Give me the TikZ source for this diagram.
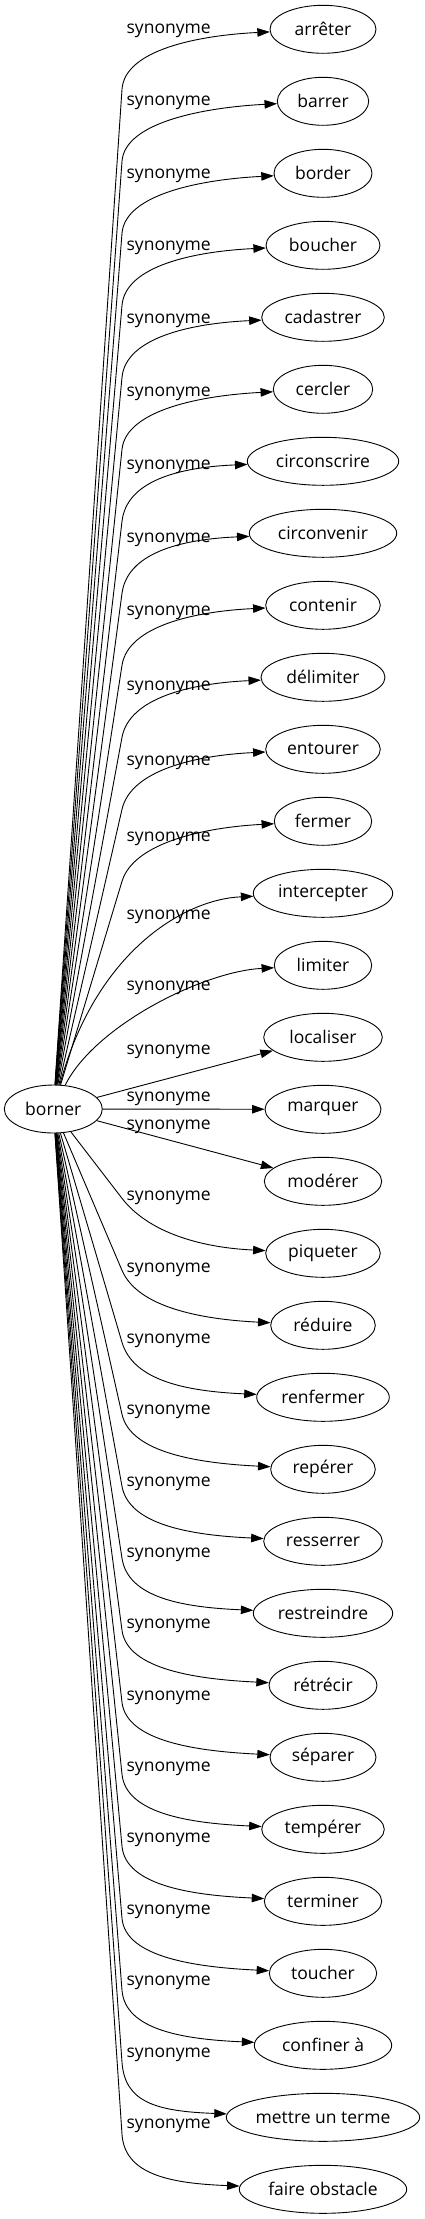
\documentclass[tikz,border=0pt]{standalone}
\usepackage{fontspec}
\setmainfont{Open Sans}
\usetikzlibrary{arrows.meta,calc,shapes.geometric}

\begin{document}
\begin{tikzpicture}[x=1pt,y=-1pt]
        \tikzstyle{wordnode}=[ellipse, draw, line width=0.9pt, inner sep=0pt, minimum height=48pt, font=\fontsize{17.5pt}{21pt}\selectfont]
        \tikzstyle{relation}=[inner sep=0pt, font=\fontsize{17.5pt}{21pt}\selectfont]
        \tikzstyle{link}=[line width=0.9pt, -{Triangle[length=12.5pt,width=8.5pt]}]
        \useasboundingbox (0,0) rectangle (424,2219);
        \node[wordnode, minimum width=98pt] (borner) at (53.3,1109) {borner};
        % index / word / half width / label shift
        \foreach \i/\w/\r/\o in {0/arrêter/53/1.4, 1/barrer/45.7/2, 2/border/49/2.3,
            3/boucher/57/3, 4/cadastrer/61.3/4, 5/cercler/49.7/5, 6/circonscrire/75.7/6,
            7/circonvenir/73.7/7, 8/contenir/57.3/8, 9/délimiter/62/11, 10/entourer/57.3/14,
            11/fermer/48.7/18, 12/intercepter/69.7/24, 13/limiter/48.7/23, 14/localiser/59.3/14.4,
            15/marquer/58/-10, 16/modérer/58.7/-54.6, 17/piqueter/57.3/-55.2, 18/réduire/52.3/-55.9,
            19/renfermer/66.3/-56.5, 20/repérer/52.3/-57.2, 21/resserrer/59.3/-57.8,
            22/restreindre/69.7/-58.4, 23/rétrécir/54/-59.1, 24/séparer/53/-59.7,
            25/tempérer/61.3/-60.4, 26/terminer/58.7/-61, 27/toucher/53.7/-61.6,
            28/confiner à/68.7/-62.3, 29/mettre un terme/96.7/-62.9, 30/faire obstacle/83.7/-63.6} {
            \pgfmathsetmacro{\ty}{29.3+72*\i}
            \node[wordnode, minimum width=2*\r pt] (t\i) at (323,\ty) {\w};
            \node[relation] (l\i) at (168.7,\ty+\o) {synonyme};
        }
        % upper links
        \foreach \i in {0,...,11} {
            \pgfmathsetmacro{\ty}{29.3+72*\i}
            \coordinate (b\i) at (122,\ty+60);
            \draw[link] (borner) -- (b\i) .. controls ($(b\i)!-40pt!(borner)$) and ($(t\i.west)+(-70,6)$) .. (t\i);
        }
        \foreach \i in {12,13} {
            \pgfmathsetmacro{\ty}{29.3+72*\i}
            \coordinate (b\i) at (95,\ty+60);
            \draw[link] (borner) .. controls (b\i) and ($(t\i.west)+(-70,6)$) .. (t\i);
        }
        % lower links
        \foreach \i in {17,...,30} {
            \pgfmathsetmacro{\ty}{29.3+72*\i}
            \coordinate (b\i) at (122,\ty-55);
            \draw[link] (borner) -- (b\i) .. controls ($(b\i)!-40pt!(borner)$) and ($(t\i.west)+(-70,-6)$) .. (t\i);
        }
        \foreach \i in {14,15,16} \draw[link] (borner) -- (t\i);
\end{tikzpicture}
\end{document}
